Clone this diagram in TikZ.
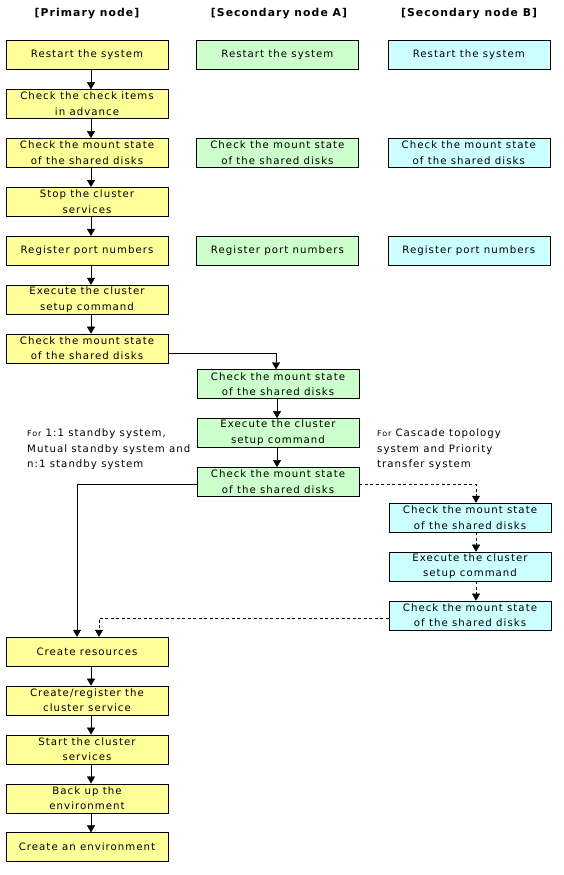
\documentclass[tikz,border=0pt]{standalone}
\usepackage{fontspec}
\setmainfont{DejaVu Sans}[LetterSpace=10]
\usetikzlibrary{arrows.meta,positioning}

\definecolor{prim}{HTML}{FFFF99}
\definecolor{seca}{HTML}{CCFFCC}
\definecolor{secb}{HTML}{CCFFFF}

\tikzset{
  box/.style={draw,minimum width=162pt,minimum height=29pt,inner sep=0pt,align=center,
    font=\fontsize{10.2}{15.5}\selectfont},
  hdr/.style={font=\bfseries\fontsize{10.8}{12}\selectfont},
  note/.style={align=left,anchor=north west,inner sep=0pt,font=\fontsize{10.2}{15.5}\selectfont},
  go/.style={-{Triangle[width=8pt,length=7pt]}},
  dashgo/.style={go,dash pattern=on 3pt off 2.5pt}
}

\begin{document}
\begin{tikzpicture}[x=1pt,y=1pt,node distance=19.5pt]
    \useasboundingbox (0,0) rectangle (563,-875);
    % headers
    \node[hdr] (hp) at (87,-14) {[Primary node]};
    \node[hdr] (ha) at (279,-14) {[Secondary node A]};
    \node[hdr] (hb) at (469,-14) {[Secondary node B]};
    % primary node, first part
    \node[box,fill=prim] (p1) at (87,-55) {Restart the system};
    \node[box,fill=prim,below=of p1] (p2) {Check the check items\\in advance};
    \node[box,fill=prim,below=of p2] (p3) {Check the mount state\\of the shared disks};
    \node[box,fill=prim,below=of p3] (p4) {Stop the cluster\\services};
    \node[box,fill=prim,below=of p4] (p5) {Register port numbers};
    \node[box,fill=prim,below=of p5] (p6) {Execute the cluster\\setup command};
    \node[box,fill=prim,below=of p6] (p7) {Check the mount state\\of the shared disks};
    % secondary nodes, same steps
    \node[box,fill=seca,right=28pt of p1] (a1) {Restart the system};
    \node[box,fill=seca,right=28pt of p3] (a3) {Check the mount state\\of the shared disks};
    \node[box,fill=seca,right=28pt of p5] (a5) {Register port numbers};
    \node[box,fill=secb,right=29pt of a1] (b1) {Restart the system};
    \node[box,fill=secb,right=29pt of a3] (b3) {Check the mount state\\of the shared disks};
    \node[box,fill=secb,right=29pt of a5] (b5) {Register port numbers};
    % secondary node A setup
    \node[box,fill=seca] (a6) at (278,-384) {Check the mount state\\of the shared disks};
    \node[box,fill=seca,below=of a6] (a7) {Execute the cluster\\setup command};
    \node[box,fill=seca,below=of a7] (a8) {Check the mount state\\of the shared disks};
    % secondary node B setup
    \node[box,fill=secb] (b6) at (470,-517.5) {Check the mount state\\of the shared disks};
    \node[box,fill=secb,below=of b6] (b7) {Execute the cluster\\setup command};
    \node[box,fill=secb,below=of b7] (b8) {Check the mount state\\of the shared disks};
    % primary node, last part
    \node[box,fill=prim] (r1) at (87,-651.5) {Create resources};
    \node[box,fill=prim,below=of r1] (r2) {Create/register the\\cluster service};
    \node[box,fill=prim,below=of r2] (r3) {Start the cluster\\services};
    \node[box,fill=prim,below=of r3] (r4) {Back up the\\environment};
    \node[box,fill=prim,below=of r4] (r5) {Create an environment};
    % notes
    \node[note] (n1) at (27,-429) {{\fontsize{8}{9}\selectfont For} 1:1 standby system,\\Mutual standby system and\\n:1 standby system};
    \node[note] (n2) at (377,-429) {{\fontsize{8}{9}\selectfont For} Cascade topology\\system and Priority\\transfer system};
    % arrows
    \foreach \u/\v in {p1/p2,p2/p3,p3/p4,p4/p5,p5/p6,p6/p7,r1/r2,r2/r3,r3/r4,r4/r5}
      \draw[go] ([xshift=4pt]\u.south) -- ([xshift=4pt]\v.north);
    \draw[go] ([yshift=-5pt]p7.east) -| ([xshift=-2pt]a6.north);
    \draw[go] ([xshift=-1pt]a6.south) -- ([xshift=-1pt]a7.north);
    \draw[go] ([xshift=-1pt]a7.south) -- ([xshift=-1pt]a8.north);
    \draw[go] ([yshift=-2.5pt]a8.west) -| ([xshift=-10pt]r1.north);
    \draw[dashgo] ([yshift=-2.5pt]a8.east) -| ([xshift=6pt]b6.north);
    \draw[dashgo] ([xshift=6pt]b6.south) -- ([xshift=6pt]b7.north);
    \draw[dashgo] ([xshift=6pt]b7.south) -- ([xshift=6pt]b8.north);
    \draw[dashgo] ([yshift=-2.5pt]b8.west) -| ([xshift=12pt]r1.north);
\end{tikzpicture}
\end{document}
